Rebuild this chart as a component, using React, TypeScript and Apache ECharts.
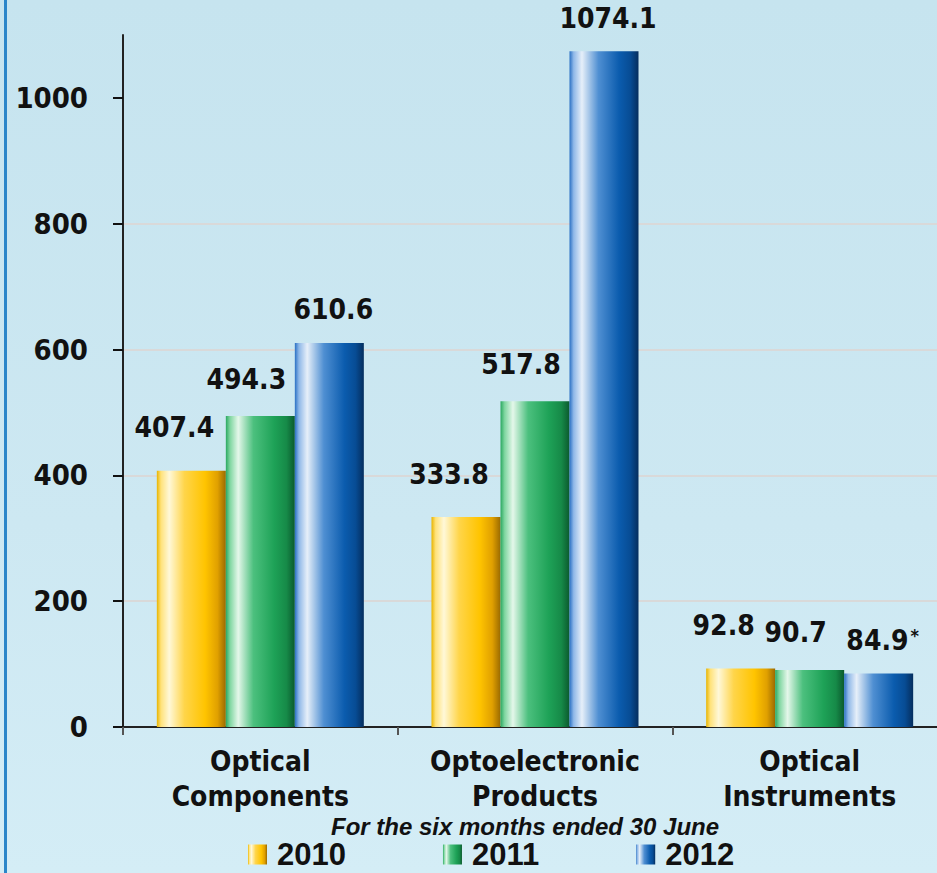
import React, { useEffect, useRef } from "react";
import * as echarts from "echarts";

const categories = ["Optical\nComponents", "Optoelectronic\nProducts", "Optical\nInstruments"];
const years = ["2010", "2011", "2012"];
const values2010 = [407.4, 333.8, 92.8];
const values2011 = [494.3, 517.8, 90.7];
const values2012 = [610.6, 1074.1, 84.9];
const notes2012 = ["", "", "*"];
const yTicks = [0, 200, 400, 600, 800, 1000];
const subtitle = "For the six months ended 30 June";

const FONT = "'DejaVu Sans Condensed', 'DejaVu Sans', sans-serif";
const ARIAL = "'Liberation Sans', Arial, sans-serif";

function grad(stops: [number, string][]) {
  return new echarts.graphic.LinearGradient(
    0, 0, 1, 0,
    stops.map(([offset, color]) => ({ offset, color }))
  );
}

const yellow = grad([
  [0, "#e8b400"], [0.06, "#ffe27a"], [0.18, "#fff8d8"], [0.4, "#ffd54a"],
  [0.7, "#ffc400"], [0.88, "#e0a000"], [1, "#9a6a00"],
]);
const green = grad([
  [0, "#2aa860"], [0.06, "#7fd6a0"], [0.18, "#e4f7ea"], [0.4, "#4cc07e"],
  [0.7, "#1ea257"], [0.88, "#168a48"], [1, "#0b5a2e"],
]);
const blue = grad([
  [0, "#2a70c4"], [0.06, "#8fb8e8"], [0.18, "#e6eff9"], [0.42, "#4f8fd2"],
  [0.72, "#0b5cae"], [0.88, "#074c94"], [1, "#052e5e"],
]);

const CHART_W = 960;

export default function App() {
  const ref = useRef<HTMLDivElement>(null);
  useEffect(() => {
    document.body.style.margin = "0";
    const chart = echarts.init(ref.current!, null, { renderer: "svg" });
    const mk = (name: string, data: number[], color: any, offsetX: number, distance: number, notes?: string[]) => ({
      name,
      type: "bar",
      data,
      barWidth: 69,
      barGap: "0%",
      itemStyle: { color },
      label: {
        show: true,
        position: "top",
        distance,
        offset: [offsetX, 0],
        formatter: (p: any) => {
          const n = notes ? notes[p.dataIndex] : "";
          return n ? `{a|${p.value}}{s|${n}}` : `{a|${p.value}}`;
        },
        rich: {
          a: { fontFamily: FONT, fontWeight: "bold", fontSize: 28, color: "#111" },
          s: { fontFamily: FONT, fontWeight: "bold", fontSize: 18, color: "#111", verticalAlign: "top", padding: [0, 0, 0, 2] },
        },
      },
    });
    chart.setOption({
      animation: false,
      graphic: [
        { type: "rect", left: 4, top: 0, shape: { width: 3, height: 873 }, style: { fill: "#2b86c9" }, z: 10 },
      ],
      title: {
        text: subtitle,
        left: 525,
        textAlign: "center",
        top: 814,
        padding: 0,
        textStyle: {
          fontFamily: ARIAL,
          fontStyle: "italic",
          fontWeight: "bold",
          fontSize: 24,
          lineHeight: 24,
          color: "#111",
        },
      },
      legend: {
        data: years,
        left: 248,
        top: 839,
        padding: 0,
        itemWidth: 19,
        itemHeight: 20,
        itemGap: 97,
        icon: "rect",
        textStyle: {
          fontFamily: ARIAL,
          fontWeight: "bold",
          fontSize: 31,
          lineHeight: 31,
          color: "#111",
          padding: [0, 0, 0, 5],
        },
      },
      grid: { left: 123, right: CHART_W - 947, top: 35, bottom: 146, containLabel: false },
      xAxis: {
        type: "category",
        data: categories,
        axisLine: { lineStyle: { color: "#222", width: 2 } },
        axisTick: { show: true, length: 8, lineStyle: { color: "#555", width: 2 } },
        axisLabel: {
          fontFamily: FONT,
          fontWeight: "bold",
          fontSize: 28,
          lineHeight: 35,
          color: "#111",
          margin: 17,
          interval: 0,
        },
      },
      yAxis: {
        type: "value",
        min: 0,
        max: 1100,
        interval: 100,
        axisLine: { show: true, lineStyle: { color: "#222", width: 2 } },
        axisTick: { show: true, length: 10, customValues: yTicks, lineStyle: { color: "#111", width: 2 } },
        axisLabel: {
          customValues: yTicks,
          formatter: (v: number) => String(v),
          fontFamily: FONT,
          fontWeight: "bold",
          fontSize: 29,
          color: "#111",
          margin: 35,
        },
        splitLine: { show: true, showMinLine: false, showMaxLine: false, lineStyle: { color: "#d9d9d9", width: 2 } },
      },
      series: [
        mk(years[0], values2010, yellow, -17, 29),
        mk(years[1], values2011, green, -14, 23),
        mk(years[2], values2012, blue, 4, 19, notes2012),
      ],
    });
    return () => chart.dispose();
  }, []);
  return (
    <div
      style={{
        width: 937,
        height: 873,
        overflow: "hidden",
        background: "linear-gradient(180deg, #c6e4ef 0%, #cde8f2 60%, #d4edf6 100%)",
      }}
    >
      <div ref={ref} style={{ width: CHART_W, height: 873 }} />
    </div>
  );
}
